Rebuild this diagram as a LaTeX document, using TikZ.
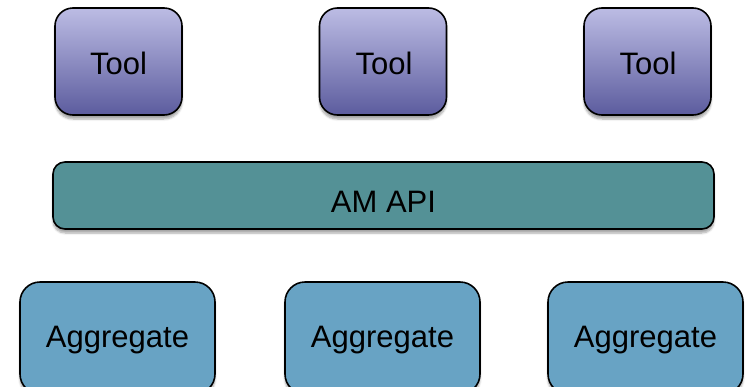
\documentclass[tikz,border=0pt]{standalone}
\usepackage{fontspec}
\setmainfont{Liberation Sans}
\usetikzlibrary{shadows.blur}
\definecolor{tooltop}{RGB}{188,188,228}
\definecolor{toolbot}{RGB}{92,92,158}
\definecolor{apicol}{RGB}{84,145,150}
\definecolor{aggcol}{RGB}{104,163,196}
\begin{document}
\begin{tikzpicture}[x=1pt,y=-1pt,
  box/.style={draw=black,line width=1.6pt,
    blur shadow={shadow xshift=0pt,shadow yshift=-4pt,shadow blur steps=6,shadow opacity=35},
    inner sep=0pt},
  lbl/.style={font=\fontsize{31}{36}\selectfont,inner sep=0pt,anchor=base},
  toolbox/.style={box,rounded corners=18pt,top color=tooltop,bottom color=toolbot,
    minimum width=127pt,minimum height=107pt},
  apibox/.style={box,rounded corners=12pt,fill=apicol,minimum width=661pt,minimum height=67pt},
  aggbox/.style={box,rounded corners=20pt,fill=aggcol,minimum width=195pt,minimum height=112pt}]
\useasboundingbox (0,0) rectangle (747,386);
\node[toolbox] (t1) at (118.5,61.5) {};
\node[toolbox] (t2) at (383,61.5) {};
\node[toolbox] (t3) at (647.5,61.5) {};
\node[apibox] (api) at (383.5,195.5) {};
\node[aggbox] (a1) at (117.5,338) {};
\node[aggbox] (a2) at (382.5,338) {};
\node[aggbox] (a3) at (645.5,338) {};
\node[lbl] (t1l) at (118.5,74) {Tool};
\node[lbl] (t2l) at (384,74) {Tool};
\node[lbl] (t3l) at (648,74) {Tool};
\node[lbl] (apil) at (383.5,212) {AM API};
\node[lbl] (a1l) at (117.5,347) {Aggregate};
\node[lbl] (a2l) at (382.5,347) {Aggregate};
\node[lbl] (a3l) at (645.5,347) {Aggregate};
\end{tikzpicture}
\end{document}
